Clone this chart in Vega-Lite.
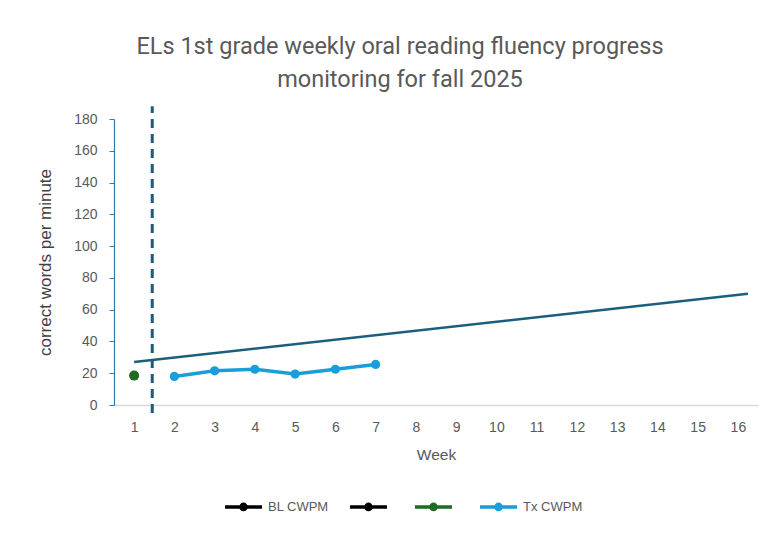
{
  "$schema": "https://vega.github.io/schema/vega-lite/v6.json",
  "autosize": "none",
  "width": 644,
  "height": 286,
  "padding": {"left": 114, "top": 119, "right": 12, "bottom": 130},
  "background": "white",
  "config": {"view": {"stroke": null}, "font": "Liberation Sans"},
  "title": {
    "text": ["ELs 1st grade weekly oral reading fluency progress", "monitoring for fall 2025"],
    "font": "Roboto, sans-serif",
    "fontSize": 23.5,
    "fontWeight": "normal",
    "color": "#595959",
    "lineHeight": 33,
    "anchor": "middle",
    "dx": -36,
    "offset": 13
  },
  "datasets": {
    "goal": [{"week": 1, "cwpm": 27}, {"week": 16.25, "cwpm": 70}],
    "phase": [{"week": 1.45, "cwpm": -5, "hi": 188}],
    "series": [
      {"series": "s3", "week": 1, "cwpm": 18.5},
      {"series": "Tx CWPM", "week": 2, "cwpm": 18},
      {"series": "Tx CWPM", "week": 3, "cwpm": 21.5},
      {"series": "Tx CWPM", "week": 4, "cwpm": 22.5},
      {"series": "Tx CWPM", "week": 5, "cwpm": 19.5},
      {"series": "Tx CWPM", "week": 6, "cwpm": 22.5},
      {"series": "Tx CWPM", "week": 7, "cwpm": 25.5}
    ]
  },
  "encoding": {
    "x": {
      "field": "week", "type": "quantitative",
      "scale": {"domain": [0.5, 16.5], "nice": false, "zero": false},
      "axis": {
        "values": [1,2,3,4,5,6,7,8,9,10,11,12,13,14,15,16],
        "grid": false, "ticks": false, "labelOverlap": false,
        "domainColor": "#D9D9D9", "domainWidth": 1.5,
        "labelFontSize": 14, "labelColor": "#595959", "labelPadding": 15,
        "title": "Week", "titleFontSize": 15.5, "titleColor": "#595959",
        "titleFontWeight": "normal", "titlePadding": 13
      }
    },
    "y": {
      "field": "cwpm", "type": "quantitative",
      "scale": {"domain": [0, 180], "nice": false},
      "axis": {
        "values": [0,20,40,60,80,100,120,140,160,180],
        "grid": false, "labelOverlap": false, "labelFlush": false,
        "domainColor": "#2E7DAA", "domainWidth": 1.2,
        "tickColor": "#2E7DAA", "tickSize": 5,
        "labelFontSize": 14, "labelColor": "#595959", "labelPadding": 12,
        "title": "correct words per minute", "titleFontSize": 17,
        "titleColor": "#404040", "titleFontWeight": "normal", "titlePadding": 19
      }
    }
  },
  "layer": [
    {
      "data": {"name": "goal"},
      "mark": {"type": "line", "color": "#1B5E7E", "strokeWidth": 2.5}
    },
    {
      "data": {"name": "phase"},
      "mark": {"type": "rule", "color": "#1F5A78", "strokeWidth": 3, "strokeDash": [9, 6], "clip": false},
      "encoding": {
        "y2": {"field": "hi"}
      }
    },
    {
      "data": {"name": "series"},
      "transform": [{"filter": "datum.series == 'Tx CWPM'"}],
      "mark": {"type": "line", "strokeWidth": 3.5, "point": {"filled": true, "size": 85}},
      "encoding": {
        "color": {
          "field": "series", "type": "nominal",
          "scale": {
            "domain": ["BL CWPM", "s2", "s3", "Tx CWPM"],
            "range": ["#000000", "#000000", "#1E6B22", "#1A9ED9"]
          },
          "legend": {
            "orient": "none",
            "direction": "horizontal",
            "legendX": 109,
            "legendY": 367,
            "title": null,
            "labelExpr": "datum.label == 'BL CWPM' || datum.label == 'Tx CWPM' ? datum.label : ''",
            "labelFontSize": 13,
            "labelColor": "#595959",
            "labelOffset": 4,
            "columnPadding": 14,
            "symbolType": "M-1,0L1,0M0.14,0A0.14,0.14,0,1,1,-0.14,0A0.14,0.14,0,1,1,0.14,0Z",
            "symbolSize": 1369,
            "symbolStrokeWidth": 3.5,
            "encode": {
              "symbols": {
                "update": {
                  "fill": {"scale": "color", "field": "value"},
                  "stroke": {"scale": "color", "field": "value"},
                  "opacity": {"value": 1}
                }
              }
            }
          }
        }
      }
    },
    {
      "data": {"name": "series"},
      "transform": [{"filter": "datum.series == 's3'"}],
      "mark": {"type": "point", "filled": true, "size": 100, "opacity": 1},
      "encoding": {
        "color": {"field": "series", "type": "nominal"}
      }
    }
  ]
}
